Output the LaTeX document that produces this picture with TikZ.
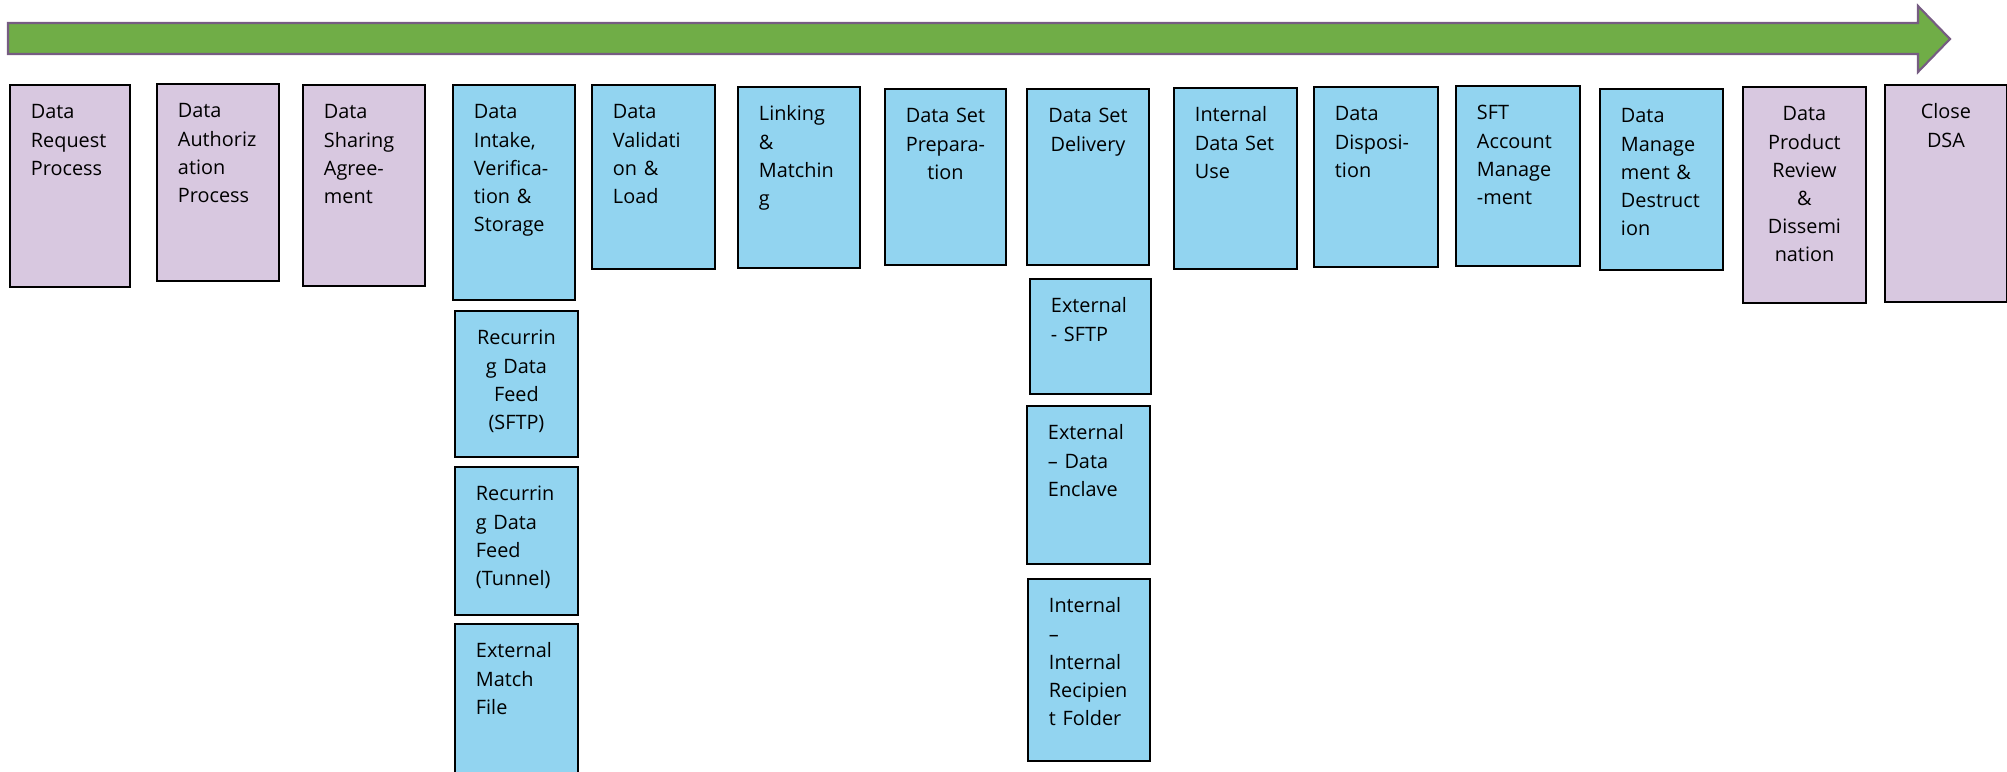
\documentclass[tikz,border=0pt]{standalone}
\usepackage{fontspec}
\setmainfont{Open Sans}
\usepackage{tikz}
\definecolor{lav}{HTML}{D8C8E0}
\definecolor{sky}{HTML}{92D4F0}
\definecolor{flowgreen}{HTML}{70AD47}
\definecolor{flowline}{HTML}{765C82}
\hyphenpenalty=10000
\exhyphenpenalty=10000
\tikzset{
  stage/.style={draw=black, line width=1.1pt, anchor=north west, inner xsep=0.42cm, inner ysep=0pt,
    text height=0.68cm, align=left, font=\fontsize{11.3}{16}\selectfont},
  mid/.style={align=center, inner xsep=0.2cm},
  admin/.style={stage, fill=lav},
  ops/.style={stage, fill=sky}
}

\begin{document}
\begin{tikzpicture}[x=0.02cm, y=-0.02cm]
\useasboundingbox (0,0) rectangle (2007,771);
\filldraw [fill=flowgreen, draw=flowline, line width=1.2pt] (8,23)--(1918,23)--(1918,6)--(1950,39)--(1918,72)--(1918,54)--(8,54)--cycle;
\node [admin, text width=1.56cm, text depth=3.36cm] (req) at (9,84) {Data\\Request\\Process};
\node [admin, text width=1.60cm, text depth=3.26cm] (auth) at (156,83) {Data\\Authoriz\\ation\\Process};
\node [admin, text width=1.60cm, text depth=3.34cm] (share) at (302,84) {Data\\Sharing\\Agree-\\ment};
\node [ops, text width=1.60cm, text depth=3.62cm] (intake) at (452,84) {Data\\Intake,\\Verifica-\\tion \&\\Storage};
\node [ops, mid, text width=2.06cm, text depth=2.24cm] (feedsftp) at (454,310) {Recurrin\\g Data\\Feed\\(SFTP)};
\node [ops, text width=1.62cm, text depth=2.28cm] (feedtunnel) at (454,466) {Recurrin\\g Data\\Feed\\(Tunnel)};
\node [ops, text width=1.62cm, text depth=2.38cm] (matchfile) at (454,623) {External\\Match\\File};
\node [ops, text width=1.62cm, text depth=3.00cm] (valid) at (591,84) {Data\\Validati\\on \&\\Load};
\node [ops, text width=1.60cm, text depth=2.94cm] (linking) at (737,86) {Linking\\\&\\Matchin\\g};
\node [ops, mid, text width=2.02cm, text depth=2.84cm] (prep) at (884,88) {Data~Set\\Prepara-\\tion};
\node [ops, mid, text width=2.04cm, text depth=2.84cm] (delivery) at (1026,88) {Data~Set\\Delivery};
\node [ops, text width=1.58cm, text depth=1.62cm] (extsftp) at (1029,278) {External\\- SFTP};
\node [ops, text width=1.62cm, text depth=2.48cm] (enclave) at (1026,405) {External\\– Data\\Enclave};
\node [ops, text width=1.60cm, text depth=2.96cm] (recipient) at (1027,578) {Internal\\–\\Internal\\Recipien\\t Folder};
\node [ops, text width=1.62cm, text depth=2.94cm] (intuse) at (1173,87) {Internal\\Data~Set\\Use};
\node [ops, text width=1.64cm, text depth=2.92cm] (dispo) at (1313,86) {Data\\Disposi-\\tion};
\node [ops, text width=1.64cm, text depth=2.92cm] (sftacct) at (1455,85) {SFT\\Account\\Manage\\-ment};
\node [ops, text width=1.62cm, text depth=2.94cm] (datamgmt) at (1599,88) {Data\\Manage\\ment \&\\Destruct\\ion};
\node [admin, mid, text width=2.06cm, text depth=3.64cm] (review) at (1742,86) {Data\\Product\\Review\\\&\\Dissemi\\nation};
\node [admin, mid, text width=2.04cm, text depth=3.66cm] (closedsa) at (1884,84) {Close\\DSA};
\end{tikzpicture}
\end{document}
